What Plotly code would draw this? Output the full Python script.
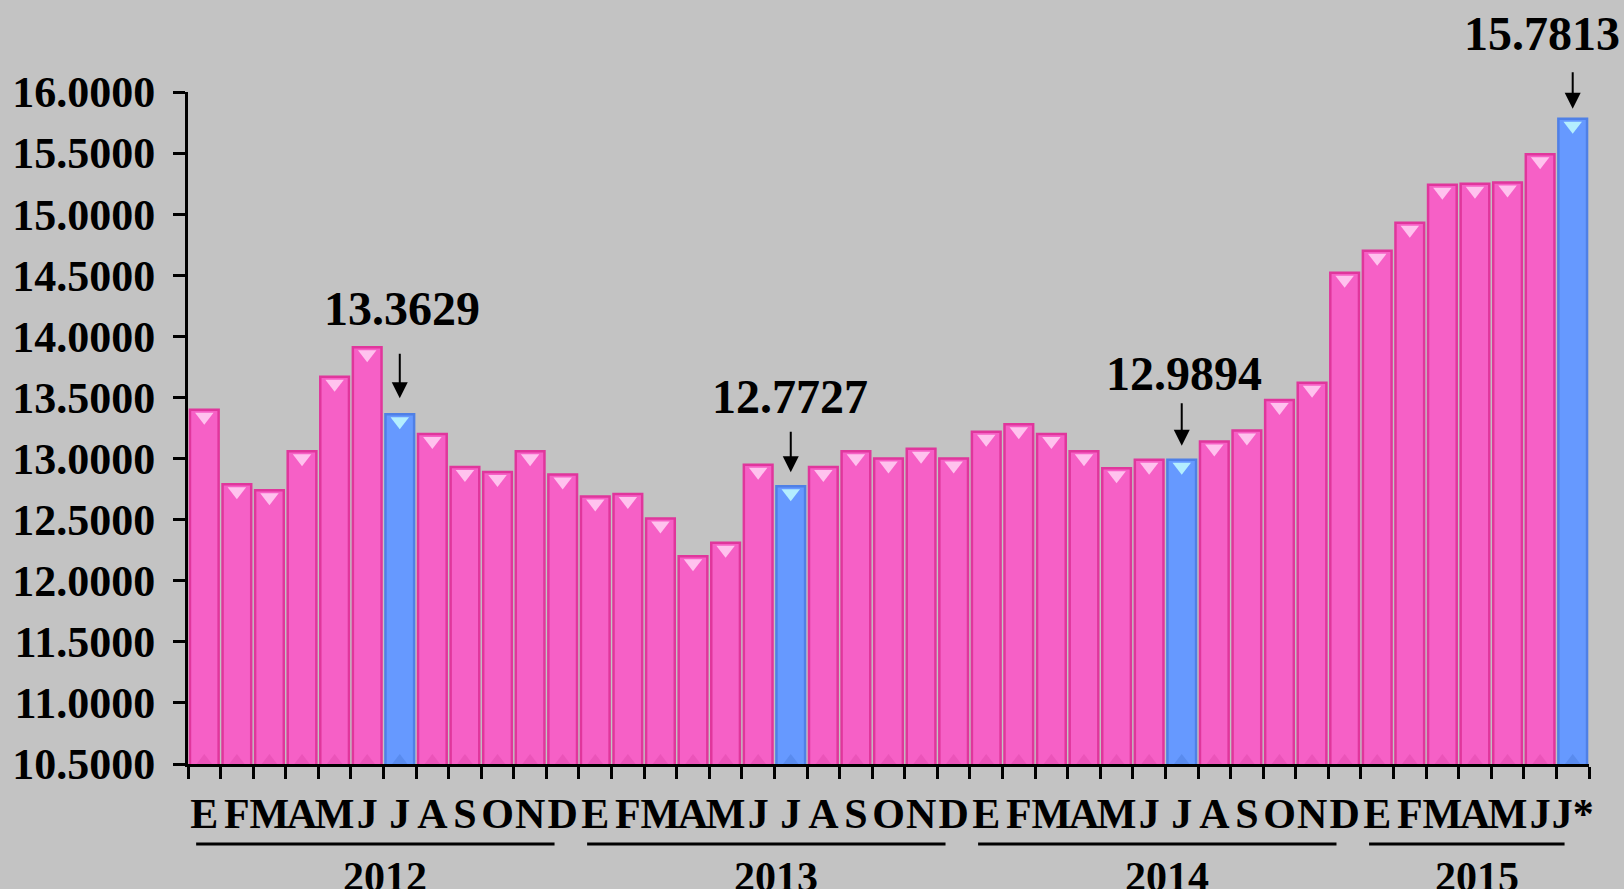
import plotly.graph_objects as go

# ---------------- data ----------------
months = ["E", "F", "M", "A", "M", "J", "J", "A", "S", "O", "N", "D",
          "E", "F", "M", "A", "M", "J", "J", "A", "S", "O", "N", "D",
          "E", "F", "M", "A", "M", "J", "J", "A", "S", "O", "N", "D",
          "E", "F", "M", "A", "M", "J", "J*"]
values = [13.40, 12.79, 12.74, 13.06, 13.67, 13.91, 13.3629, 13.20, 12.93, 12.89, 13.06, 12.87,
          12.69, 12.71, 12.51, 12.20, 12.31, 12.95, 12.7727, 12.93, 13.06, 13.00, 13.08, 13.00,
          13.22, 13.28, 13.20, 13.06, 12.92, 12.99, 12.9894, 13.14, 13.23, 13.48, 13.62, 14.52,
          14.70, 14.93, 15.24, 15.25, 15.26, 15.49, 15.7813]
years = ["2012", "2013", "2014", "2015"]
year_first = [0, 12, 24, 36]
year_last = [11, 23, 35, 42]
labeled = [6, 18, 30, 42]          # bars with value callouts (July)
y_ticks = [10.5 + 0.5 * k for k in range(12)]

# ---------------- style ----------------
PINK = "#F660C6"
PINK_EDGE = "#E0369C"
PINK_HI = "#FFC2EE"
PINK_LO = "#E24AAE"
BLUE = "#6699FF"
BLUE_EDGE = "#4F80E6"
BLUE_HI = "#B4EEFF"
BLUE_LO = "#4F7FE0"
BG = "#C3C3C3"
FONT = "Liberation Serif"

x = list(range(len(values)))
is_lab = [i in labeled for i in x]
fill = [BLUE if f else PINK for f in is_lab]
edge = [BLUE_EDGE if f else PINK_EDGE for f in is_lab]
hi = [BLUE_HI if f else PINK_HI for f in is_lab]
lo = [BLUE_LO if f else PINK_LO for f in is_lab]

y_min, y_max = 10.5, 16.0
plot_h_px = 889 - 92 - 125
px_to_val = (y_max - y_min) / plot_h_px

fig = go.Figure()
fig.add_trace(go.Bar(
    x=x, y=values,
    marker=dict(color=fill, line=dict(color=edge, width=2.5)),
    hoverinfo="y",
))
# top highlight (glossy cap)
fig.add_trace(go.Scatter(
    x=x, y=[v - 7 * px_to_val for v in values], mode="markers",
    marker=dict(symbol="triangle-down", size=16, color=hi, line=dict(width=0)),
    hoverinfo="skip",
))
# bottom shading
fig.add_trace(go.Scatter(
    x=x, y=[y_min] * len(values), mode="markers",
    marker=dict(symbol="triangle-up", size=20, color=lo, opacity=0.55, line=dict(width=0)),
    hoverinfo="skip", cliponaxis=True,
))

# callouts
text_off = {6: 106, 18: 90, 30: 86, 42: 85}
text_dx = {6: 2, 18: -1, 30: 2, 42: -31}
arrow_len = {6: 46, 18: 42, 30: 44, 42: 38}
arrow_gap = {6: 16, 18: 14, 30: 14, 42: 10}
for i in labeled:
    v = values[i]
    fig.add_annotation(
        x=i, y=v, xref="x", yref="y", text="", showarrow=True,
        ax=0, ay=-(arrow_len[i] + arrow_gap[i]), axref="pixel", ayref="pixel",
        standoff=arrow_gap[i], arrowhead=2, arrowsize=1.6, arrowwidth=2, arrowcolor="black",
    )
    fig.add_annotation(
        x=i, y=v, xref="x", yref="y", text=f"{v:.4f}", showarrow=False,
        yshift=text_off[i], xshift=text_dx[i], yanchor="middle",
        font=dict(family=FONT, size=48, color="black", weight="bold"),
    )

# year underlines and labels
for yr, a, b in zip(years, year_first, year_last):
    x0, x1 = a - 0.25, b - 0.25
    fig.add_shape(type="line", xref="x", yref="paper", x0=x0, x1=x1, y0=-0.119, y1=-0.119,
                  line=dict(color="black", width=3))
    fig.add_annotation(x=(x0 + x1) / 2 + 0.3, y=-0.168, xref="x", yref="paper", text=yr,
                       showarrow=False, yanchor="middle",
                       font=dict(family=FONT, size=42, color="black", weight="bold"))

fig.update_layout(
    width=1624, height=889,
    margin=dict(l=186, r=35, t=92, b=125),
    paper_bgcolor=BG, plot_bgcolor=BG,
    showlegend=False, bargap=0.12,
    font=dict(family=FONT, color="black"),
    xaxis=dict(
        range=[-0.5, len(values) - 0.5],
        tickmode="array", tickvals=x, ticktext=months, tickangle=0,
        ticks="", ticklabelstandoff=11,
        tickfont=dict(family=FONT, size=42, color="black", weight="bold"),
        showline=True, linecolor="black", linewidth=3, showgrid=False, zeroline=False,
        minor=dict(tickmode="array", tickvals=[i - 0.5 for i in range(len(values) + 1)],
                   ticks="outside", ticklen=12, tickwidth=2.5, tickcolor="black", showgrid=False),
    ),
    yaxis=dict(
        range=[y_min, y_max], tickmode="array", tickvals=y_ticks, tickformat=".4f",
        ticks="outside", ticklen=12, tickwidth=3, tickcolor="black", ticklabelstandoff=9,
        tickfont=dict(family=FONT, size=44, color="black", weight="bold"),
        showline=True, linecolor="black", linewidth=3, showgrid=False, zeroline=False,
    ),
)

fig.write_html("out.html", config={"displayModeBar": False},
               post_script="document.body.style.margin='0';document.body.style.overflow='hidden';")
